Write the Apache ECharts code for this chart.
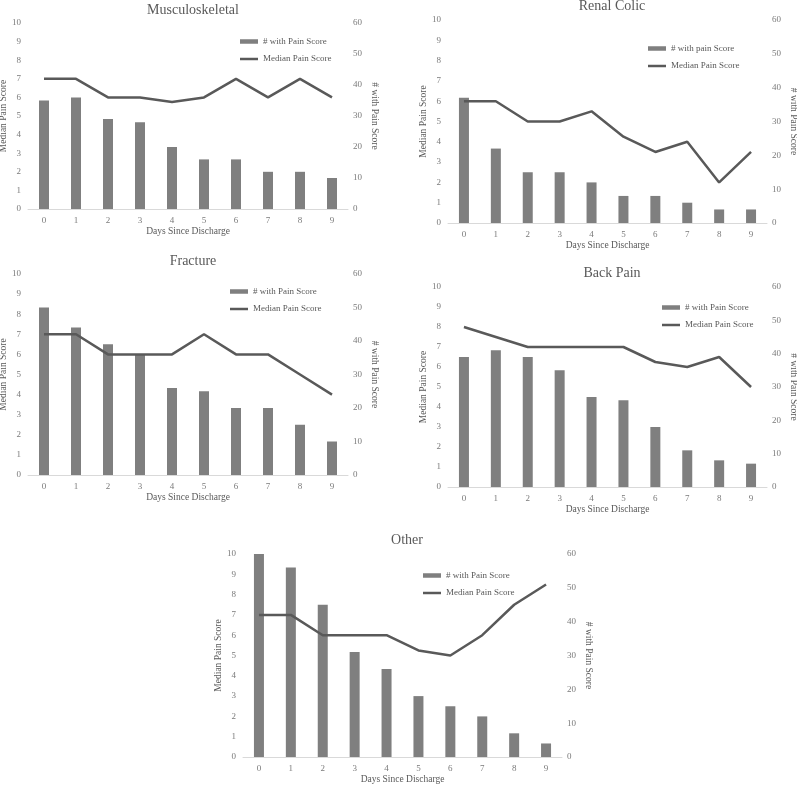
<!DOCTYPE html>
<html><head><meta charset="utf-8">
<script src="https://cdn.jsdelivr.net/npm/echarts@6/dist/echarts.min.js"></script>
<style>html,body{margin:0;padding:0;background:#fff}#c{width:797px;height:785px}</style>
</head><body><div id="c"></div>
<script>
const days = ['0','1','2','3','4','5','6','7','8','9'];
const titles = ['Musculoskeletal','Renal Colic','Fracture','Back Pain','Other'];
const barNames = ['# with Pain Score','# with pain Score','# with Pain Score','# with Pain Score','# with Pain Score'];
const lineName = 'Median Pain Score';
const countMSK = [35,36,29,28,20,16,16,12,12,10];
const medianMSK = [7,7,6,6,5.75,6,7,6,7,6];
const countRenal = [37,22,15,15,12,8,8,6,4,4];
const medianRenal = [6,6,5,5,5.5,4.25,3.5,4,2,3.5];
const countFracture = [50,44,39,36,26,25,20,20,15,10];
const medianFracture = [7,7,6,6,6,7,6,6,5,4];
const countBack = [39,41,39,35,27,26,18,11,8,7];
const medianBack = [8,7.5,7,7,7,7,6.25,6,6.5,5];
const countOther = [60,56,45,31,26,18,15,12,7,4];
const medianOther = [7,7,6,6,6,5.25,5,6,7.5,8.5];
const xName = 'Days Since Discharge';
const leftName = 'Median Pain Score';
const rightName = '# with Pain Score';

const counts = [countMSK,countRenal,countFracture,countBack,countOther];
const medians = [medianMSK,medianRenal,medianFracture,medianBack,medianOther];

const FONT = 'Liberation Serif';
const BAR = '#7f7f7f', LINE = '#595959', TXT = '#595959', TICK = '#7a7a7a';
const grids = [
  {left:28, top:23, width:320, height:186},
  {left:448, top:20, width:319, height:203},
  {left:28, top:274, width:320, height:201},
  {left:448, top:287, width:319, height:200},
  {left:243, top:554, width:319, height:203}
];
const titlePos = [[188,-2],[607,-6],[188,249],[607,261],[402,528]];
const legendPos = [[240,37],[648,44],[230,287],[662,303],[423,571]];

const option = {animation:false, backgroundColor:'#fff', grid:[], xAxis:[], yAxis:[], series:[], title:[], legend:[]};
grids.forEach((g,i)=>{
  option.grid.push(Object.assign({outerBoundsMode:'none', containLabel:false}, g));
  option.title.push({text:titles[i], left:titlePos[i][0], top:titlePos[i][1], textAlign:'center',
    textStyle:{fontFamily:FONT, fontSize:14, fontWeight:'normal', color:TXT}});
  option.xAxis.push({type:'category', gridIndex:i, data:days, name:xName, nameLocation:'middle', nameGap:17,
    nameTextStyle:{fontFamily:FONT, fontSize:9.5, color:TXT},
    axisLine:{lineStyle:{color:'#d9d9d9', width:1}}, axisTick:{show:false},
    axisLabel:{fontFamily:FONT, fontSize:9, color:TICK, margin:7}});
  option.yAxis.push({type:'value', gridIndex:i, min:0, max:10, interval:1, position:'left',
    name:leftName, nameLocation:'middle', nameGap:19, nameRotate:90,
    nameTextStyle:{fontFamily:FONT, fontSize:9.5, color:TXT},
    axisLine:{show:false}, axisTick:{show:false}, splitLine:{show:false},
    axisLabel:{fontFamily:FONT, fontSize:9, color:TICK, margin:7}});
  option.yAxis.push({type:'value', gridIndex:i, min:0, max:60, interval:10, position:'right',
    name:rightName, nameLocation:'middle', nameGap:21, nameRotate:-90,
    nameTextStyle:{fontFamily:FONT, fontSize:9.5, color:TXT},
    axisLine:{show:false}, axisTick:{show:false}, splitLine:{show:false},
    axisLabel:{fontFamily:FONT, fontSize:9, color:TICK, margin:5}});
  option.series.push({type:'bar', name:barNames[i], xAxisIndex:i, yAxisIndex:2*i+1, data:counts[i],
    barWidth:10, itemStyle:{color:BAR}});
  option.series.push({type:'line', name:lineName, xAxisIndex:i, yAxisIndex:2*i, data:medians[i],
    symbol:'none', lineStyle:{color:LINE, width:2.5}, itemStyle:{color:LINE}});
  option.legend.push({orient:'vertical', left:legendPos[i][0], top:legendPos[i][1], padding:0,
    itemWidth:18, itemHeight:9, itemGap:8.5,
    textStyle:{fontFamily:FONT, fontSize:9, color:TXT},
    data:[
      {name:barNames[i], icon:'path://M0,0H18V4.5H0Z', itemStyle:{color:BAR, borderWidth:0}},
      {name:lineName, icon:'path://M0,0H18V2.5H0Z', itemStyle:{color:LINE, borderWidth:0}}
    ]});
});
const chart = echarts.init(document.getElementById('c'), null, {renderer:'canvas'});
chart.setOption(option);
</script></body></html>
